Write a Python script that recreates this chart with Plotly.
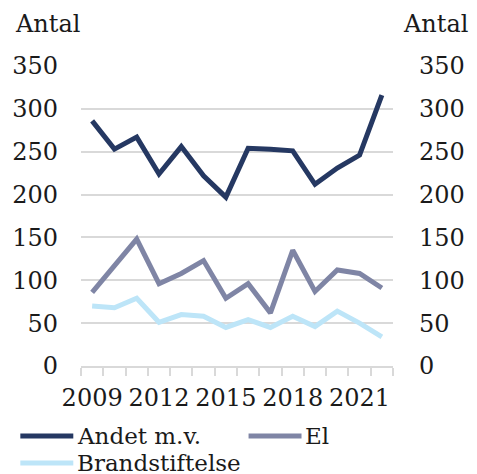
import plotly.graph_objects as go

years = [2009, 2010, 2011, 2012, 2013, 2014, 2015, 2016, 2017, 2018, 2019, 2020, 2021, 2022]
andet = [286, 253, 267, 224, 256, 222, 197, 254, 253, 251, 212, 231, 246, 316]
el = [86, 118, 148, 96, 108, 123, 79, 96, 62, 135, 87, 112, 108, 91]
brand = [70, 68, 79, 51, 60, 58, 45, 54, 45, 58, 46, 64, 50, 34]
xticks = [2009, 2012, 2015, 2018, 2021]
yticks = [0, 50, 100, 150, 200, 250, 300, 350]

c_andet = "#253862"
c_el = "#7F85A5"
c_brand = "#BDE5F8"
grid = "#D9D9D9"
font = "DejaVu Serif"
txt = "#1a1a1a"

fig = go.Figure()
fig.add_trace(go.Scatter(x=years, y=andet, mode="lines", line=dict(color=c_andet, width=5), name="Andet m.v."))
fig.add_trace(go.Scatter(x=years, y=el, mode="lines", line=dict(color=c_el, width=5), name="El"))
fig.add_trace(go.Scatter(x=years, y=brand, mode="lines", line=dict(color=c_brand, width=5), name="Brandstiftelse"))
fig.add_trace(go.Scatter(x=years, y=andet, mode="lines", line=dict(width=0), yaxis="y2",
                         showlegend=False, hoverinfo="skip", opacity=0))

bounds = [y - 0.5 for y in years] + [years[-1] + 0.5]

fig.update_layout(
    width=477, height=474,
    margin=dict(l=81, r=72, t=66, b=108),
    paper_bgcolor="white", plot_bgcolor="white",
    showlegend=False,
    font=dict(family=font, size=24, color=txt),
    xaxis=dict(
        range=[years[0] - 0.5, years[-1] + 0.5],
        tickvals=xticks, ticktext=[str(v) for v in xticks],
        ticks="", showgrid=False, zeroline=False,
        showline=True, linecolor=grid, linewidth=2,
        ticklabelstandoff=9,
        tickfont=dict(family=font, size=24, color=txt),
        minor=dict(tickvals=bounds, ticks="outside", ticklen=8, tickcolor=grid, tickwidth=2, showgrid=False),
    ),
    yaxis=dict(
        range=[0, 350], tickvals=yticks, showgrid=True, gridcolor=grid, gridwidth=2,
        zeroline=False, showline=False, ticks="", ticklabelstandoff=22,
        tickfont=dict(family=font, size=24, color=txt),
    ),
    yaxis2=dict(
        range=[0, 350], tickvals=yticks, overlaying="y", side="right",
        showgrid=False, zeroline=False, showline=False, ticks="", ticklabelstandoff=25,
        tickfont=dict(family=font, size=24, color=txt),
    ),
)

def px_x(p):
    return (p - 81) / 324.0

def px_y(p):
    return (366 - p) / 300.0

fig.add_annotation(text="Antal", xref="paper", yref="paper", x=px_x(10), y=px_y(24),
                   xanchor="left", yanchor="middle", showarrow=False,
                   font=dict(family=font, size=24, color=txt))
fig.add_annotation(text="Antal", xref="paper", yref="paper", x=px_x(413), y=px_y(24),
                   xanchor="left", yanchor="middle", showarrow=False,
                   font=dict(family=font, size=24, color=txt))

legend_items = [("Andet m.v.", c_andet, 18, 436), ("El", c_el, 255, 436), ("Brandstiftelse", c_brand, 18, 463)]
for name, col, lx, ly in legend_items:
    fig.add_shape(type="line", xref="paper", yref="paper",
                  x0=px_x(lx), x1=px_x(lx + 55), y0=px_y(ly), y1=px_y(ly),
                  line=dict(color=col, width=5))
    fig.add_annotation(text=name, xref="paper", yref="paper", x=px_x(lx + 57), y=px_y(ly),
                       xanchor="left", yanchor="middle", showarrow=False,
                       font=dict(family=font, size=23, color=txt))

fig.write_html("out.html", config={"displayModeBar": False},
               post_script="document.body.style.margin='0';document.body.style.overflow='hidden';")
